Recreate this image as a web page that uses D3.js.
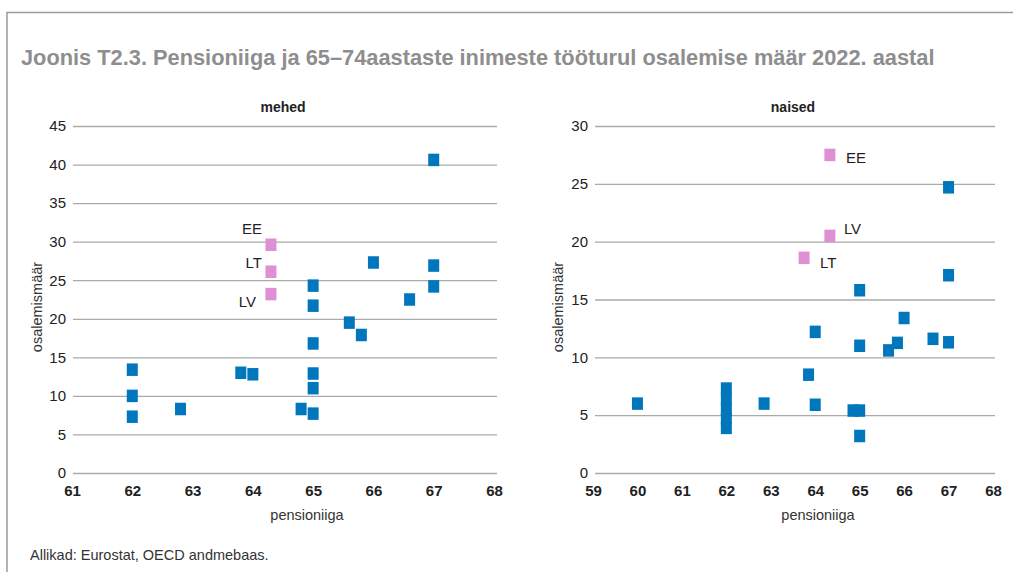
<!DOCTYPE html>
<html>
<head>
<meta charset="utf-8">
<script src="https://cdn.jsdelivr.net/npm/d3@7"></script>
<style>
  body { margin: 0; background: #fff; }
  svg text { font-family: "Liberation Sans", Arial, sans-serif; }
</style>
</head>
<body>
<div class="svg"></div>
<script>
// mehed (men): retirement age vs participation rate
var menAge  = [67, 66, 67, 67, 65, 65, 66.6, 65.6, 65.8, 65, 62, 63.8, 64, 65, 65, 62, 62.8, 64.8, 65, 62];
var menRate = [40.6, 27.3, 26.9, 24.2, 24.3, 21.7, 22.5, 19.5, 17.9, 16.8, 13.4, 13.0, 12.8, 12.9, 11.0, 10.0, 8.3, 8.3, 7.7, 7.3];
var menBalticLabel = ['EE', 'LT', 'LV'];
var menBalticAge   = [64.3, 64.3, 64.3];
var menBalticRate  = [29.6, 26.1, 23.2];

// naised (women)
var womenAge  = [67, 67, 65, 66, 64, 66.65, 67, 65.85, 65, 65.65, 63.85, 60, 62.85, 64, 64.85, 65, 65, 62, 62, 62, 62, 62];
var womenRate = [24.7, 17.1, 15.8, 13.4, 12.2, 11.6, 11.3, 11.25, 11.0, 10.6, 8.5, 6.0, 6.0, 5.9, 5.4, 5.4, 3.2, 7.3, 6.4, 5.5, 4.7, 3.9];
var womenBalticLabel = ['EE', 'LV', 'LT'];
var womenBalticAge   = [64.33, 64.33, 63.75];
var womenBalticRate  = [27.5, 20.5, 18.6];

var menTicksY = [0, 5, 10, 15, 20, 25, 30, 35, 40, 45];
var womenTicksY = [0, 5, 10, 15, 20, 25, 30];

var BLUE = '#0077bd';
var PINK = '#df8fd4';

function zip(xs, ys) {
  return xs.map(function (x, i) { return {x: x, y: ys[i]}; });
}

function Page(settings) {
  for (var k in Page.defaults) this[k] = Page.defaults[k];
  for (var s in settings) this[s] = settings[s];
  this.appendSvg('div.svg');
  this.drawFrame();
}

Page.defaults = {
  'svg_width': 1013,
  'svg_height': 572
};

Page.prototype.appendSvg = function (selector) {
  this.svg = d3.select(selector || 'body')
    .append('svg')
    .attr('width', this.svg_width)
    .attr('height', this.svg_height);
};

Page.prototype.drawFrame = function () {
  var svg = this.svg;
  svg.append('path')
    .attr('d', 'M7,572V12.5H1013')
    .attr('fill', 'none')
    .attr('stroke', '#9a9a9a')
    .attr('stroke-width', 1.5);

  svg.append('text')
    .attr('x', 21).attr('y', 65)
    .attr('font-size', '21.8px')
    .attr('font-weight', 'bold')
    .attr('fill', '#8e8e8e')
    .text('Joonis T2.3. Pensioniiga ja 65\u201374aastaste inimeste tööturul osalemise määr 2022. aastal');

  svg.append('text')
    .attr('x', 30).attr('y', 560)
    .attr('font-size', '14.5px')
    .attr('fill', '#333')
    .text('Allikad: Eurostat, OECD andmebaas.');
};

// one scatter panel
Page.prototype.panel = function (o) {
  var svg = this.svg;
  var x = d3.scaleLinear().domain(o.xDomain).range(o.xRange);
  var y = d3.scaleLinear().domain([0, d3.max(o.yTicks)]).range([473, 126]);
  var g = svg.append('g');

  // gridlines + y tick labels
  var yAxis = g.append('g')
    .attr('transform', 'translate(' + o.gridStart + ',0)')
    .call(d3.axisLeft(y).tickValues(o.yTicks).tickSize(-(o.gridEnd - o.gridStart)).tickPadding(7));
  yAxis.select('.domain').remove();
  yAxis.selectAll('line').attr('stroke', '#aaa').attr('stroke-width', 1.3);
  yAxis.selectAll('text').attr('font-size', '15px').attr('fill', '#222')
    .style('font-family', '"Liberation Sans", Arial, sans-serif');

  // x tick labels
  var xTicks = d3.range(o.xDomain[0], o.xDomain[1] + 1);
  var xAxis = g.append('g')
    .attr('transform', 'translate(0,473)')
    .call(d3.axisBottom(x).tickValues(xTicks).tickFormat(d3.format('d')).tickSize(0).tickPadding(12));
  xAxis.select('.domain').remove();
  xAxis.selectAll('text').attr('font-size', '15px').attr('font-weight', 'bold').attr('fill', '#222')
    .style('font-family', '"Liberation Sans", Arial, sans-serif');

  g.append('text')
    .attr('x', (o.xRange[0] + o.xRange[1]) / 2).attr('y', 112)
    .attr('text-anchor', 'middle')
    .attr('font-size', '14px').attr('font-weight', 'bold').attr('fill', '#222')
    .text(o.title);

  g.append('text')
    .attr('x', o.xLabelX).attr('y', 520)
    .attr('text-anchor', 'middle')
    .attr('font-size', '14.5px').attr('fill', '#333')
    .text('pensioniiga');

  g.append('text')
    .attr('transform', 'translate(' + o.yLabelX + ',' + 307 + ') rotate(-90)')
    .attr('text-anchor', 'middle')
    .attr('font-size', '14.5px').attr('fill', '#333')
    .text('osalemismäär');

  var w = 11, h = 12.5;
  g.selectAll('rect.c')
    .data(zip(o.age, o.rate))
    .enter()
    .append('rect')
    .attr('class', 'c')
    .attr('x', function (d) { return x(d.x) - w / 2; })
    .attr('y', function (d) { return y(d.y) - h / 2; })
    .attr('width', w).attr('height', h)
    .attr('fill', BLUE);

  var baltic = o.bLabel.map(function (l, i) { return {l: l, x: o.bAge[i], y: o.bRate[i]}; });
  g.selectAll('rect.b')
    .data(baltic)
    .enter()
    .append('rect')
    .attr('class', 'b')
    .attr('x', function (d) { return x(d.x) - w / 2; })
    .attr('y', function (d) { return y(d.y) - h / 2; })
    .attr('width', w).attr('height', h)
    .attr('fill', PINK);

  g.selectAll('text.b')
    .data(baltic)
    .enter()
    .append('text')
    .attr('class', 'b')
    .attr('x', function (d, i) { return x(d.x) + o.labelDx[i]; })
    .attr('y', function (d, i) { return y(d.y) + o.labelDy[i]; })
    .attr('text-anchor', o.labelAnchor)
    .attr('font-size', '15px').attr('fill', '#222')
    .text(function (d) { return d.l; });
};

var page = new Page({});

page.panel({
  title: 'mehed',
  xDomain: [61, 68], xRange: [72, 494],
  gridStart: 73, gridEnd: 497,
  yTicks: menTicksY,
  age: menAge, rate: menRate,
  bLabel: menBalticLabel, bAge: menBalticAge, bRate: menBalticRate,
  labelAnchor: 'end', labelDx: [-9, -9, -15], labelDy: [-11, -4, 13],
  xLabelX: 307, yLabelX: 42
});

page.panel({
  title: 'naised',
  xDomain: [59, 68], xRange: [593, 993],
  gridStart: 595, gridEnd: 995,
  yTicks: womenTicksY,
  age: womenAge, rate: womenRate,
  bLabel: womenBalticLabel, bAge: womenBalticAge, bRate: womenBalticRate,
  labelAnchor: 'start', labelDx: [16, 14, 16], labelDy: [8, -2, 10],
  xLabelX: 818, yLabelX: 563
});
</script>
</body>
</html>
